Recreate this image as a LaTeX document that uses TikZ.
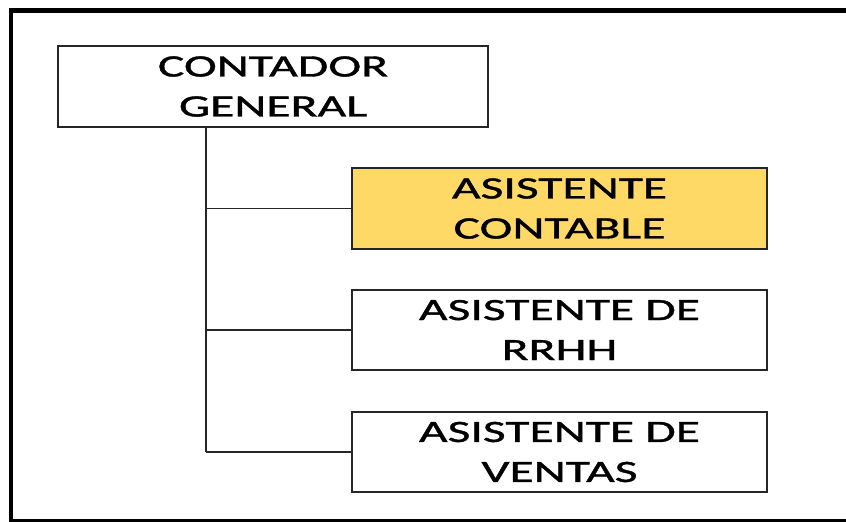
\documentclass[tikz,border=0pt]{standalone}
\usepackage{fontspec}
\setmainfont{Carlito}[FakeStretch=1.6,FakeBold=1.2]
\usepackage{tikz}

\definecolor{cargo}{HTML}{FFD966}
\tikzset{
	puesto/.style={draw=black!85, line width=1.6pt, align=center, minimum width=415pt, minimum height=80pt, inner sep=0pt, font=\fontsize{31}{40}\selectfont},
	rama/.style={draw=black!85, line width=1.6pt},
}

\begin{document}
\begin{tikzpicture}[x=1pt,y=-1pt]
		\useasboundingbox (0,0) rectangle (846,522);
		\clip (0,0) rectangle (846,522);
		% marco abierto a la derecha
		\draw[line width=4.5pt] (846,10.5) -- (11,10.5) -- (11,521) -- (846,521);
		\node[puesto, minimum width=430pt, minimum height=81pt] (gen) at (273,86.5) {CONTADOR\\GENERAL};
		\node[puesto, fill=cargo, minimum height=81pt] (cont) at (559.5,208.5) {ASISTENTE\\CONTABLE};
		\node[puesto] (rrhh) at (559.5,330) {ASISTENTE DE\\RRHH};
		\node[puesto] (ventas) at (559.5,452) {ASISTENTE DE\\VENTAS};
		\coordinate (tronco) at (206,0);
		\draw[rama] (gen.south -| tronco) -- (tronco |- ventas.west);
		\foreach \n in {cont,rrhh,ventas}{
			\draw[rama] (tronco |- \n.west) -- (\n.west);
		};
	\end{tikzpicture}
\end{document}
